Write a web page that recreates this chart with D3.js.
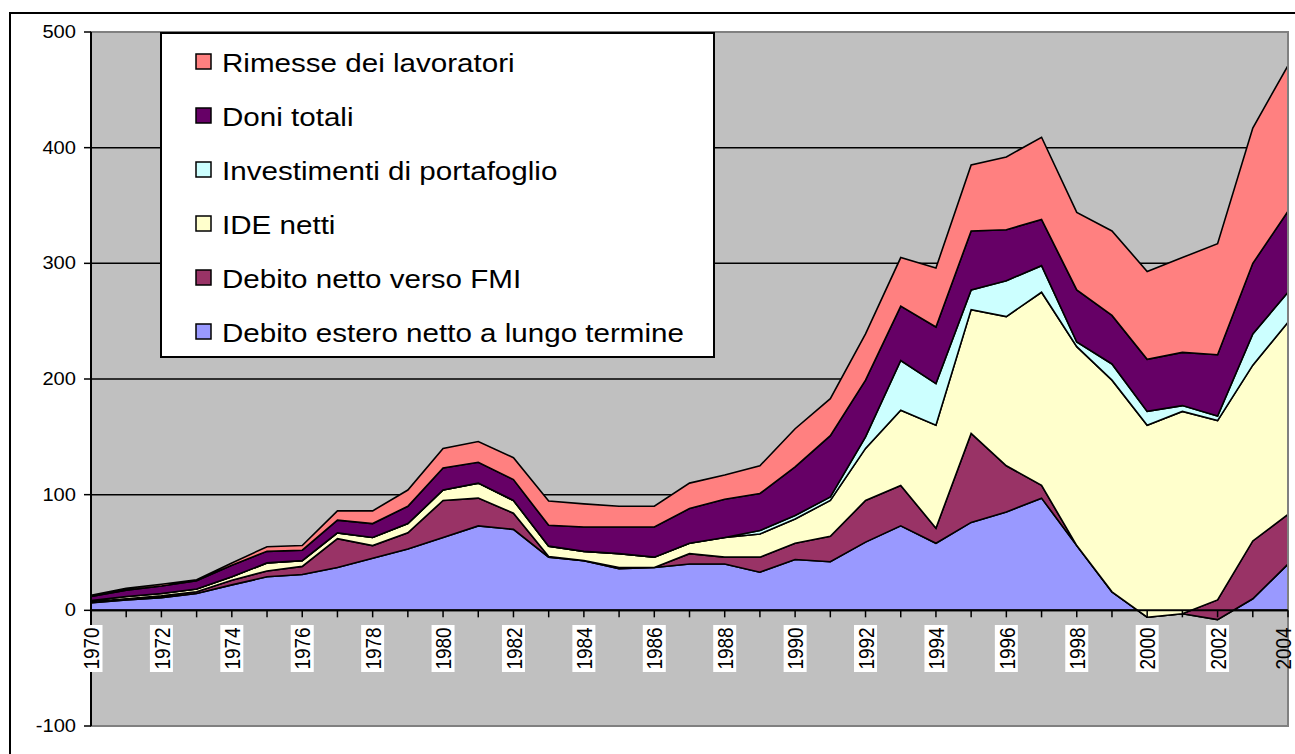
<!DOCTYPE html>
<html>
<head>
<meta charset="utf-8">
<script src="https://cdn.jsdelivr.net/npm/d3@7"></script>
<style>
  html, body { margin: 0; padding: 0; background: #fff; }
  svg { display: block; }
  text { font-family: "Liberation Sans", Arial, sans-serif; fill: #000; }
</style>
</head>
<body>
<svg id="chart" width="1295" height="754"></svg>
<script>
const years = d3.range(1970, 2005);
const seriesNames = [
  "Debito estero netto a lungo termine",
  "Debito netto verso FMI",
  "IDE netti",
  "Investimenti di portafoglio",
  "Doni totali",
  "Rimesse dei lavoratori"
];
const seriesColors = ["#9999FF", "#993366", "#FFFFCC", "#CCFFFF", "#660066", "#FF8080"];

const debitoEstero = [6.5, 9, 11, 14.5, 22, 29, 31, 37, 45, 53, 63, 73, 70, 46, 43, 36, 37, 40, 40, 33, 44, 42, 59, 73, 58, 76, 85, 97, 56, 16, -6, -3, -8, 10, 40];
const debitoFMI   = [1, 1, 1.5, 1.5, 4, 5, 7, 25, 11, 14, 32, 24, 14, 0.5, 0, 1, 0, 9, 6, 13, 14, 22, 36, 35, 13, 77, 40, 11, 0, 0, 0, 0, 17, 50, 43];
const ideNetti    = [1, 2, 2, 2.5, 3, 7, 5, 5, 7, 8, 9, 13, 11, 9, 8, 12, 9, 9, 17, 20, 21, 31, 45, 65, 89, 107, 129, 167, 172, 183, 166, 175, 155, 152, 166];
const portafoglio = [0, 0, 0, 0, 0, 0, 0, 0, 0, 0, 0, 0, 0, 0, 0, 0, 0, 0, 0, 3, 3, 3, 10, 43, 36, 17, 31, 23, 4, 14, 12, 5, 4, 27, 26];
const doniTotali  = [3.5, 5.5, 6.5, 7, 10, 10, 9, 11, 12, 15, 19, 18, 18, 18, 21, 23, 26, 30, 33, 32, 42, 53, 49, 47, 49, 51, 44, 40, 45, 42, 45, 46, 53, 61, 70];
const rimesse     = [1, 1.5, 1.5, 1, 2, 4, 4, 8, 11, 14, 17, 18, 19, 21, 20, 18, 18, 22, 21, 24, 33, 32, 40, 42, 51, 57, 63, 71, 67, 73, 76, 82, 96, 117, 126];

const yTicks = [-100, 0, 100, 200, 300, 400, 500];
const xLabelYears = d3.range(1970, 2005, 2);

const allSeries = [debitoEstero, debitoFMI, ideNetti, portafoglio, doniTotali, rimesse];
const table = years.map((yr, i) => {
  const row = { year: yr };
  seriesNames.forEach((n, k) => row[n] = allSeries[k][i]);
  return row;
});

const svg = d3.select("#chart");
const L = 91, R = 1288, T = 32, B = 726;
const x = d3.scaleLinear().domain([1970, 2004]).range([L, R]);
const y = d3.scaleLinear().domain([-100, 500]).range([B, T]);

// outer chart border
svg.append("rect").attr("x", 10).attr("y", 13).attr("width", 1400).attr("height", 900)
  .attr("fill", "#fff").attr("stroke", "#000").attr("stroke-width", 2);

// plot background
svg.append("rect").attr("x", L).attr("y", T).attr("width", R - L).attr("height", B - T)
  .attr("fill", "#C0C0C0");

// gridlines
svg.append("g").selectAll("line").data(yTicks.filter(v => v > -100 && v < 500 && v !== 0)).join("line")
  .attr("x1", L).attr("x2", R).attr("y1", d => y(d)).attr("y2", d => y(d))
  .attr("stroke", "#000").attr("stroke-width", 1.5);

// stacked areas
const stack = d3.stack().keys(seriesNames).order(d3.stackOrderNone).offset(d3.stackOffsetNone);
const stacked = stack(table);
const area = d3.area()
  .x(d => x(d.data.year))
  .y0(d => y(d[0]))
  .y1(d => y(d[1]));

svg.append("g").selectAll("path").data(stacked).join("path")
  .attr("d", area)
  .attr("fill", (d, i) => seriesColors[i])
  .attr("stroke", "#000").attr("stroke-width", 1.6).attr("stroke-linejoin", "miter");

// plot border (gray)
svg.append("rect").attr("x", L).attr("y", T).attr("width", R - L).attr("height", B - T)
  .attr("fill", "none").attr("stroke", "#808080").attr("stroke-width", 2);

// y axis
const yAxisG = svg.append("g");
yAxisG.append("line").attr("x1", L).attr("x2", L).attr("y1", T).attr("y2", B)
  .attr("stroke", "#000").attr("stroke-width", 2);
yAxisG.selectAll("line.tick").data(yTicks).join("line").attr("class", "tick")
  .attr("x1", L - 7).attr("x2", L).attr("y1", d => y(d)).attr("y2", d => y(d))
  .attr("stroke", "#000").attr("stroke-width", 1.5);
yAxisG.selectAll("text").data(yTicks).join("text")
  .attr("transform", d => `translate(${L - 15},${y(d)}) scale(1.15,1)`)
  .attr("text-anchor", "end").attr("dominant-baseline", "central")
  .attr("font-size", 17.5)
  .text(d => d);

// x axis (at zero)
const xAxisG = svg.append("g");
xAxisG.append("line").attr("x1", L).attr("x2", R).attr("y1", y(0)).attr("y2", y(0))
  .attr("stroke", "#000").attr("stroke-width", 2);
xAxisG.selectAll("line.tick").data(years).join("line").attr("class", "tick")
  .attr("x1", d => x(d)).attr("x2", d => x(d)).attr("y1", y(0)).attr("y2", y(0) + 7)
  .attr("stroke", "#000").attr("stroke-width", 1.5);
xAxisG.selectAll("rect.lbl").data(xLabelYears.filter(d => d !== 2004)).join("rect").attr("class", "lbl")
  .attr("x", d => x(d) - 11.5).attr("y", 625).attr("width", 23).attr("height", 47)
  .attr("fill", "#fff");
xAxisG.selectAll("text").data(xLabelYears).join("text")
  .attr("transform", d => `translate(${d === 2004 ? x(d) - 5 : x(d)},648.5) scale(1.2,1) rotate(-90)`)
  .attr("text-anchor", "middle").attr("dominant-baseline", "central")
  .attr("font-size", 19)
  .text(d => d);

// legend
const lg = svg.append("g");
lg.append("rect").attr("x", 161).attr("y", 33).attr("width", 553).attr("height", 324)
  .attr("fill", "#fff").attr("stroke", "#000").attr("stroke-width", 2);
const legendOrder = d3.range(seriesNames.length).reverse();
legendOrder.forEach((k, row) => {
  const top = 54 + row * 54;
  lg.append("rect").attr("x", 196).attr("y", top).attr("width", 15).attr("height", 15)
    .attr("fill", seriesColors[k]).attr("stroke", "#000").attr("stroke-width", 1.5);
  lg.append("text")
    .attr("transform", `translate(222,${top + 18}) scale(1.16,1)`)
    .attr("font-size", 25.5)
    .text(seriesNames[k]);
});
</script>
</body>
</html>
